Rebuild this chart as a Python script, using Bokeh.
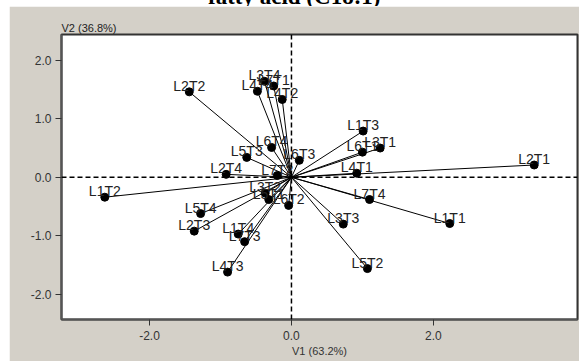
from bokeh.plotting import figure
from bokeh.models import Span, FixedTicker, PrintfTickFormatter, Title, Div, ColumnDataSource, Range1d
from bokeh.layouts import column
from bokeh.embed import file_html
from bokeh.resources import INLINE

# ---- data ----
labels = ["L1T1", "L1T2", "L1T3", "L1T4",
          "L2T1", "L2T2", "L2T3", "L2T4",
          "L3T1", "L3T2", "L3T3", "L3T4",
          "L4T1", "L4T2", "L4T3", "L4T4",
          "L5T1", "L5T2", "L5T3", "L5T4",
          "L6T1", "L6T2", "L6T3", "L6T4",
          "L7T1", "L7T2", "L7T3", "L7T4"]
v1 = [2.23, -2.63, 1.01, -0.75,
      3.42, -1.44, -1.37, -0.92,
      1.25, -0.37, 0.73, -0.38,
      0.92, -0.13, -0.90, -0.48,
      -0.32, 1.07, -0.63, -1.28,
      1.00, -0.04, 0.11, -0.28,
      -0.25, -0.20, -0.66, 1.10]
v2 = [-0.79, -0.34, 0.79, -0.97,
      0.21, 1.46, -0.92, 0.05,
      0.50, -0.27, -0.80, 1.64,
      0.07, 1.33, -1.62, 1.47,
      -0.38, -1.56, 0.34, -0.62,
      0.43, -0.48, 0.29, 0.51,
      1.56, 0.03, -1.10, -0.38]
origin_x = [0.0] * len(labels)
origin_y = [0.0] * len(labels)
x_ticks = [-2.0, 0.0, 2.0]
y_ticks = [-2.0, -1.0, 0.0, 1.0, 2.0]
x_title = "V1 (63.2%)"
y_title = "V2 (36.8%)"
chart_title = "fatty acid (C18:1)"

GRAY = "#d4d0c8"
FONT = "Liberation Sans"

src = ColumnDataSource(dict(x0=origin_x, y0=origin_y, x=v1, y=v2, label=labels))

p = figure(width=570, height=355, output_backend="svg", toolbar_location=None,
           x_range=Range1d(-3.24, 4.03), y_range=Range1d(-2.43, 2.44),
           min_border_left=52, min_border_right=2, min_border_top=28, min_border_bottom=42)
p.margin = (0, 0, 0, 9)
p.border_fill_color = GRAY
p.background_fill_color = "white"
p.outline_line_color = "#333333"
p.outline_line_width = 2
p.xgrid.visible = False
p.ygrid.visible = False

p.add_layout(Span(location=0, dimension="width", line_color="black", line_dash="5 3", line_width=1.5))
p.add_layout(Span(location=0, dimension="height", line_color="black", line_dash="5 3", line_width=1.5))

p.segment(x0="x0", y0="y0", x1="x", y1="y", source=src, line_color="black", line_width=1)
p.scatter(x="x", y="y", source=src, size=8, fill_color="black", line_color="black")
p.text(x="x", y="y", text="label", source=src, text_align="center", text_baseline="alphabetic",
       y_offset=-6, text_font_size="14px", text_color="#222222", text_font={"value": FONT})

for ax in (p.xaxis[0], p.yaxis[0]):
    ax.axis_line_color = "#555555"
    ax.axis_line_width = 2
    ax.major_tick_line_color = "#333333"
    ax.major_tick_out = 6
    ax.major_tick_in = 0
    ax.minor_tick_line_color = None
    ax.major_label_text_font = FONT
    ax.major_label_text_font_size = "12px"
    ax.major_label_text_color = "#333333"
    ax.formatter = PrintfTickFormatter(format="%.1f")

p.xaxis[0].ticker = FixedTicker(ticks=x_ticks)
p.yaxis[0].ticker = FixedTicker(ticks=y_ticks)
p.xaxis[0].major_label_standoff = 5
p.yaxis[0].major_label_standoff = 4
p.xaxis[0].axis_label = x_title
p.xaxis[0].axis_label_text_font = FONT
p.xaxis[0].axis_label_text_font_size = "11px"
p.xaxis[0].axis_label_text_font_style = "normal"
p.xaxis[0].axis_label_text_color = "#333333"
p.xaxis[0].axis_label_standoff = 2

p.add_layout(Title(text=y_title, align="left", text_font=FONT, text_font_size="11px",
                   text_font_style="normal", text_color="#222222", standoff=2, offset=0), "above")

div = Div(text=('<div style="position:relative; top:-15px; left:208px; white-space:nowrap; '
                'font: bold 23px/23px \'Liberation Serif\'; color:black;">' + chart_title + '</div>'),
          width=579, height=6,
          styles={"overflow": "hidden", "height": "6px", "max-height": "6px",
                  "min-height": "6px", "padding": "0", "margin": "0"})

layout = column(div, p, spacing=0)
open("out.html", "w").write(file_html(layout, INLINE))
